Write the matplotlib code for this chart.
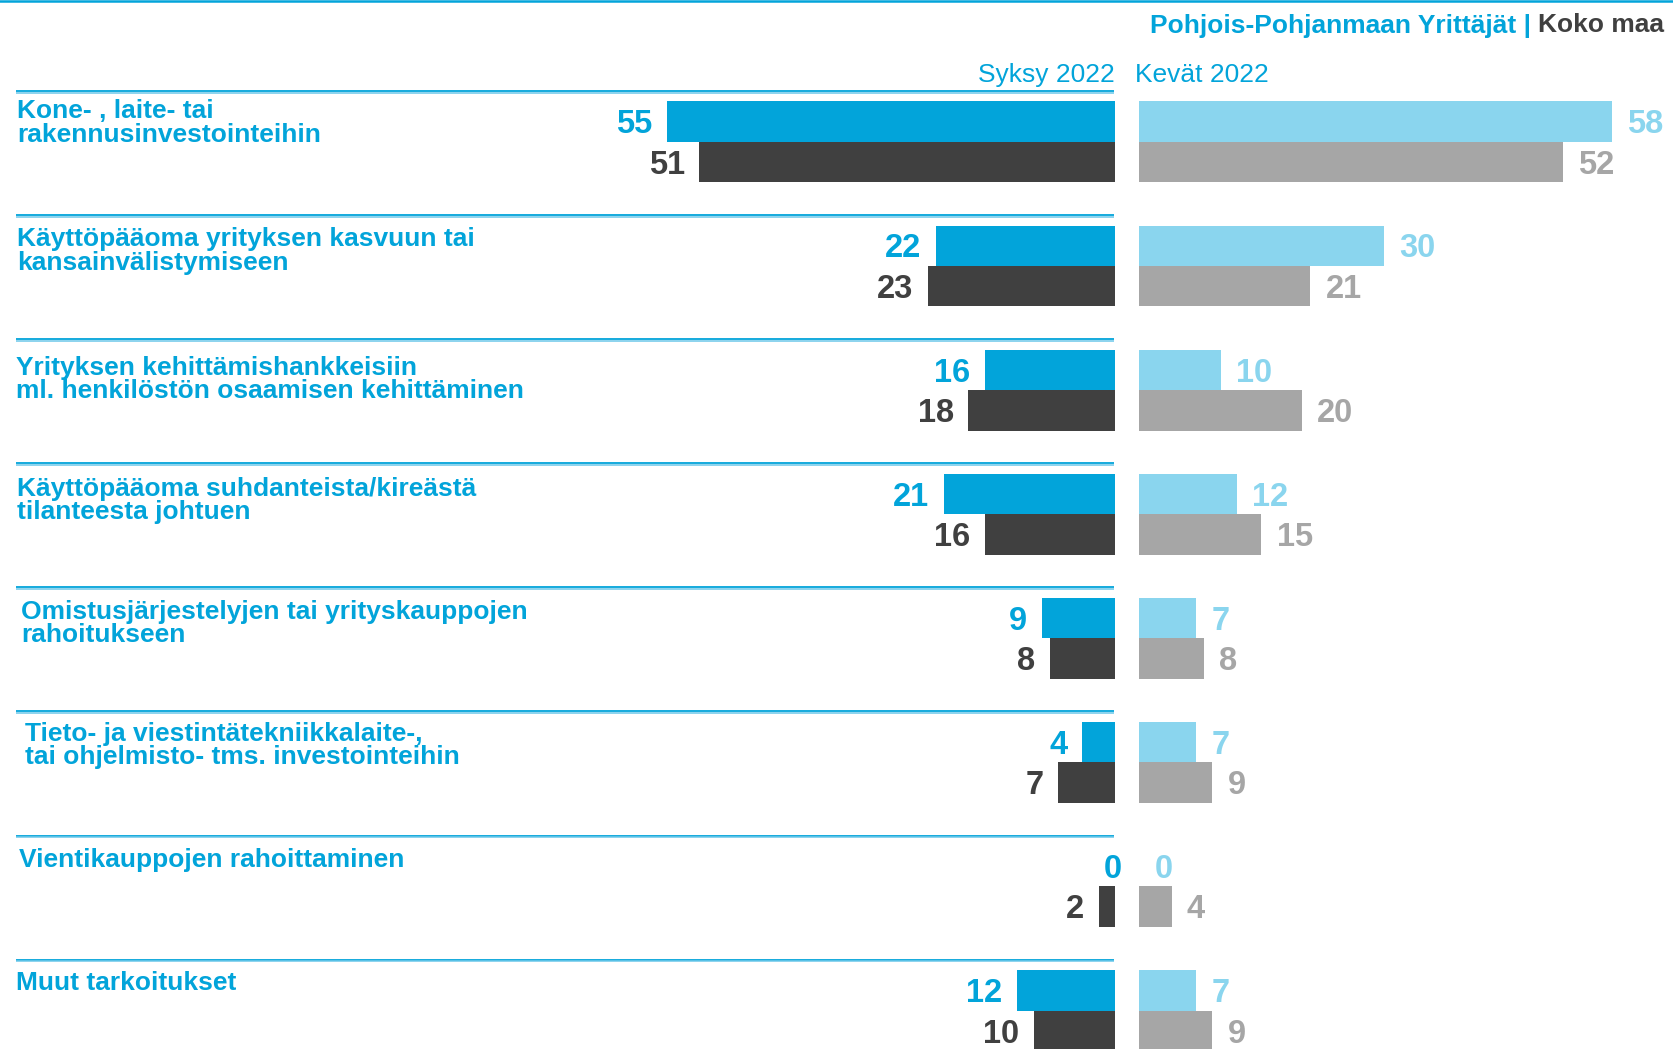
import matplotlib
matplotlib.use("Agg")
import matplotlib.pyplot as plt
from matplotlib.lines import Line2D
from matplotlib.transforms import blended_transform_factory
import numpy as np

# ---------------- data ----------------
categories = [
    "Kone- , laite- tai\nrakennusinvestointeihin",
    "Käyttöpääoma yrityksen kasvuun tai\nkansainvälistymiseen",
    "Yrityksen kehittämishankkeisiin\nml. henkilöstön osaamisen kehittäminen",
    "Käyttöpääoma suhdanteista/kireästä\ntilanteesta johtuen",
    "Omistusjärjestelyjen tai yrityskauppojen\nrahoitukseen",
    "Tieto- ja viestintätekniikkalaite-,\ntai ohjelmisto- tms. investointeihin",
    "Vientikauppojen rahoittaminen",
    "Muut tarkoitukset",
]
syksy_region = [55, 22, 16, 21, 9, 4, 0, 12]
syksy_country = [51, 23, 18, 16, 8, 7, 2, 10]
kevat_region = [58, 30, 10, 12, 7, 7, 0, 7]
kevat_country = [52, 21, 20, 15, 8, 9, 4, 9]

left_title = "Syksy 2022"
right_title = "Kevät 2022"
header_region = "Pohjois-Pohjanmaan Yrittäjät |"
header_country = "Koko maa"

# ---------------- style ----------------
BLUE = "#02A4DA"
LIGHTBLUE = "#8AD5EE"
DARK = "#404040"
GRAY = "#A6A6A6"
SEP2 = "#6CC8EA"

plt.rcParams["font.family"] = ["Liberation Sans", "DejaVu Sans"]

W, H = 1673, 1049
fig = plt.figure(figsize=(W / 100, H / 100), dpi=100)

PX = 8.15          # pixels per percentage unit
zero_left, zero_right, left_start = 1115, 1139, 16
group_px, first_px = 124.1, 91.8

axL = fig.add_axes([left_start / W, 0, (zero_left - left_start) / W, 1])
axR = fig.add_axes([zero_right / W, 0, (W - zero_right) / W, 1])
axL.set_xlim((zero_left - left_start) / PX, 0)
axR.set_xlim(0, (W - zero_right) / PX)
for ax in (axL, axR):
    ax.set_ylim((H - first_px) / group_px, -first_px / group_px)
    ax.axis("off")

n = len(categories)
y = np.arange(n)
bh = 40.5 / group_px
top_c = (9.6 + 20.25) / group_px
bot_c = (9.6 + 40.5 + 20.25) / group_px

axL.barh(y + top_c, syksy_region, height=bh, color=BLUE)
axL.barh(y + bot_c, syksy_country, height=bh, color=DARK)
axR.barh(y + top_c, kevat_region, height=bh, color=LIGHTBLUE)
axR.barh(y + bot_c, kevat_country, height=bh, color=GRAY)

VFS = 23.5
DY = -VFS * 0.716 / 2   # put digit centre on bar centre
def lab(ax, vals, yc, color, side):
    for yi, v in zip(yc, vals):
        if side == "left":
            if v == 0:
                ax.annotate(str(v), xy=(v, yi), xytext=(-1.5, DY), textcoords="offset points",
                            ha="center", va="baseline", fontsize=VFS, fontweight="bold", color=color)
            else:
                ax.annotate(str(v), xy=(v, yi), xytext=(-10.5, DY), textcoords="offset points",
                            ha="right", va="baseline", fontsize=VFS, fontweight="bold", color=color)
        else:
            ax.annotate(str(v), xy=(v, yi), xytext=(11, DY), textcoords="offset points",
                        ha="left", va="baseline", fontsize=VFS, fontweight="bold", color=color)

lab(axL, syksy_region, y + top_c, BLUE, "left")
lab(axL, syksy_country, y + bot_c, DARK, "left")
lab(axR, kevat_region, y + top_c, LIGHTBLUE, "right")
lab(axR, kevat_country, y + bot_c, GRAY, "right")

# separators
xmaxL = (zero_left - left_start) / PX
axL.hlines(y - 0.8 / group_px, 0.12, xmaxL, color=BLUE, lw=1.3)
axL.hlines(y + 0.8 / group_px, 0.12, xmaxL, color=SEP2, lw=1.1)

# category labels (first-line cap centre offset below the separator, px)
trans = blended_transform_factory(fig.transFigure, axL.transData)
indent_px = [17, 17, 16, 17, 21, 25, 19, 16]
label_dy_px = [17, 21.3, 25.6, 22.4, 21.3, 19.2, 21.3, 20.3]
CFS = 19
cap = CFS * 100 / 72 * 0.716
for i, (c, ip, dy) in enumerate(zip(categories, indent_px, label_dy_px)):
    fig.text(ip / W, i + (dy - cap / 2 - 0.5) / group_px, c, transform=trans, ha="left", va="top",
             fontsize=CFS, fontweight="bold", color=BLUE, linespacing=0.99)

# column titles
fig.text(zero_left / W, 1 - 82 / H, left_title, ha="right", va="baseline", fontsize=19, color=BLUE)
fig.text(1135 / W, 1 - 82 / H, right_title, ha="left", va="baseline", fontsize=19, color=BLUE)

# header
koko = fig.text(1664 / W, 1 - 32.5 / H, header_country, ha="right", va="baseline",
                fontsize=19, fontweight="bold", color=DARK)
fig.canvas.draw()
bb = koko.get_window_extent()
fig.text((bb.x0 - 7) / W, 1 - 32.5 / H, header_region, ha="right", va="baseline",
         fontsize=19, fontweight="bold", color=BLUE)

# top rule
fig.add_artist(Line2D([0, 1], [1 - 1.2 / H] * 2, transform=fig.transFigure, lw=1.8, color=BLUE))

fig.savefig("out.png", dpi=100)
